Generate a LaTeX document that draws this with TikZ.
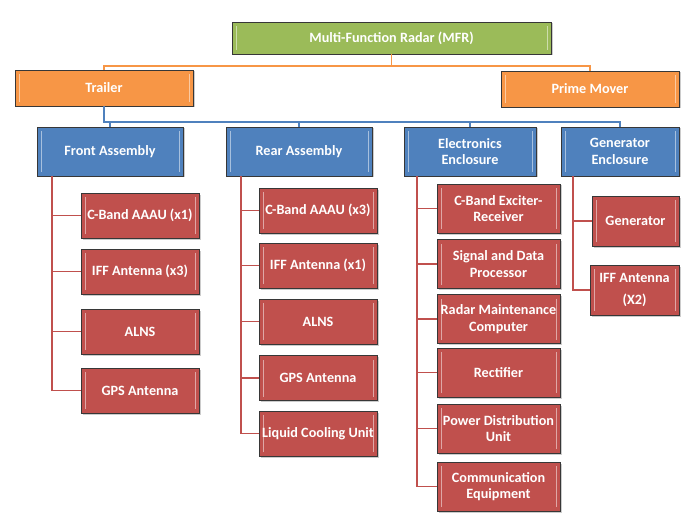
\documentclass[tikz,border=0pt]{standalone}
\usepackage{fontspec}
\setmainfont{Carlito}
\usetikzlibrary{shadows}
\definecolor{RootGreen}{RGB}{155,187,89}
\definecolor{VehicleOrange}{RGB}{247,150,70}
\definecolor{GroupBlue}{RGB}{79,129,189}
\definecolor{PartRed}{RGB}{192,80,77}
\definecolor{EdgeGrey}{RGB}{55,55,55}
\tikzset{
  box/.style={draw=EdgeGrey,line width=0.8pt,text=white,align=center,
    inner sep=1pt,font=\bfseries\fontsize{14.2}{16.5}\selectfont,
    drop shadow={shadow xshift=1.5pt,shadow yshift=-1.5pt,fill=black!50,opacity=0.4},
    path picture={\draw[white,opacity=0.5,line width=1pt]
      ([xshift=4pt,yshift=4pt]path picture bounding box.south west) --
      ([xshift=4pt,yshift=-4pt]path picture bounding box.north west)
      ([xshift=-4pt,yshift=4pt]path picture bounding box.south east) --
      ([xshift=-4pt,yshift=-4pt]path picture bounding box.north east);}},
  rootbox/.style={box,fill=RootGreen,minimum width=319pt,minimum height=32pt},
  vehiclebox/.style={box,fill=VehicleOrange,minimum width=178pt,minimum height=36pt},
  groupbox/.style={box,fill=GroupBlue,minimum height=49pt},
  partbox/.style={box,fill=PartRed,minimum width=118pt,minimum height=45pt},
  orangelink/.style={VehicleOrange,line width=1.6pt},
  bluelink/.style={GroupBlue,line width=1.8pt},
  redlink/.style={PartRed,line width=1.8pt}
}
\begin{document}
\begin{tikzpicture}[x=1pt,y=-1pt]
  \fill[white] (0,0) rectangle (699,524);
  \useasboundingbox (0,0) rectangle (699,524);
  % top levels
  \node[rootbox] (mfr) at (391.5,38) {Multi-Function Radar (MFR)};
  \node[vehiclebox] (trailer) at (104,88) {Trailer};
  \node[vehiclebox] (prime) at (590,89) {Prime Mover};
  \node[groupbox,minimum width=146pt] (front) at (110,151.5) {Front Assembly};
  \node[groupbox,minimum width=146pt] (rear) at (299,151.5) {Rear Assembly};
  \node[groupbox,minimum width=132pt] (elec) at (470,151.5) {Electronics\\Enclosure};
  \node[groupbox,minimum width=118pt] (gen) at (620,151.5) {Generator\\Enclosure};
  % parts
  \foreach \name/\ypos/\label in {fcband/215.5/C-Band AAAU (x1),fiff/271.5/IFF Antenna (x3),
      falns/331.5/ALNS,fgps/390.5/GPS Antenna}
    \node[partbox] (\name) at (140,\ypos) {\label};
  \foreach \name/\ypos/\label in {rcband/210.5/C-Band AAAU (x3),riff/265.5/IFF Antenna (x1),
      ralns/321.5/ALNS,rgps/378/GPS Antenna,rcool/433.5/Liquid Cooling Unit}
    \node[partbox] (\name) at (318,\ypos) {\label};
  \foreach \name/\ypos/\label in {eexc/208.5/C-Band Exciter-\\Receiver,
      esdp/264/Signal and Data\\Processor,ermc/319/Radar Maintenance\\Computer,
      erect/372.5/Rectifier,epdu/428.5/Power Distribution\\Unit,
      ecomm/486.5/Communication\\Equipment}
    \node[partbox,minimum width=123pt,minimum height=49pt] (\name) at (498.5,\ypos) {\label};
  \node[partbox,minimum width=87pt,minimum height=50pt] (ggen) at (635.5,221) {Generator};
  \node[partbox,minimum width=89pt,minimum height=50pt] (giff) at (634.5,290) {IFF Antenna\\[5pt](X2)};
  % links
  \coordinate (obus) at (0,66);
  \draw[orangelink] (mfr.south) -- (mfr.south |- obus) -| (trailer.north);
  \draw[orangelink] (mfr.south |- obus) -| (prime.north);
  \coordinate (bbus) at (0,122);
  \draw[bluelink] (trailer.south) |- (gen.north |- bbus) -- (gen.north);
  \foreach \g in {front,rear,elec}
    \draw[bluelink] (\g.north |- bbus) -- (\g.north);
  \foreach \p in {fcband,fiff,falns,fgps}
    \draw[redlink] ([xshift=15pt]front.south west) |- (\p.west);
  \foreach \p in {rcband,riff,ralns,rgps,rcool}
    \draw[redlink] ([xshift=15pt]rear.south west) |- (\p.west);
  \foreach \p in {eexc,esdp,ermc,erect,epdu,ecomm}
    \draw[redlink] ([xshift=13pt]elec.south west) |- (\p.west);
  \foreach \p in {ggen,giff}
    \draw[redlink] ([xshift=12pt]gen.south west) |- (\p.west);
\end{tikzpicture}
\end{document}
